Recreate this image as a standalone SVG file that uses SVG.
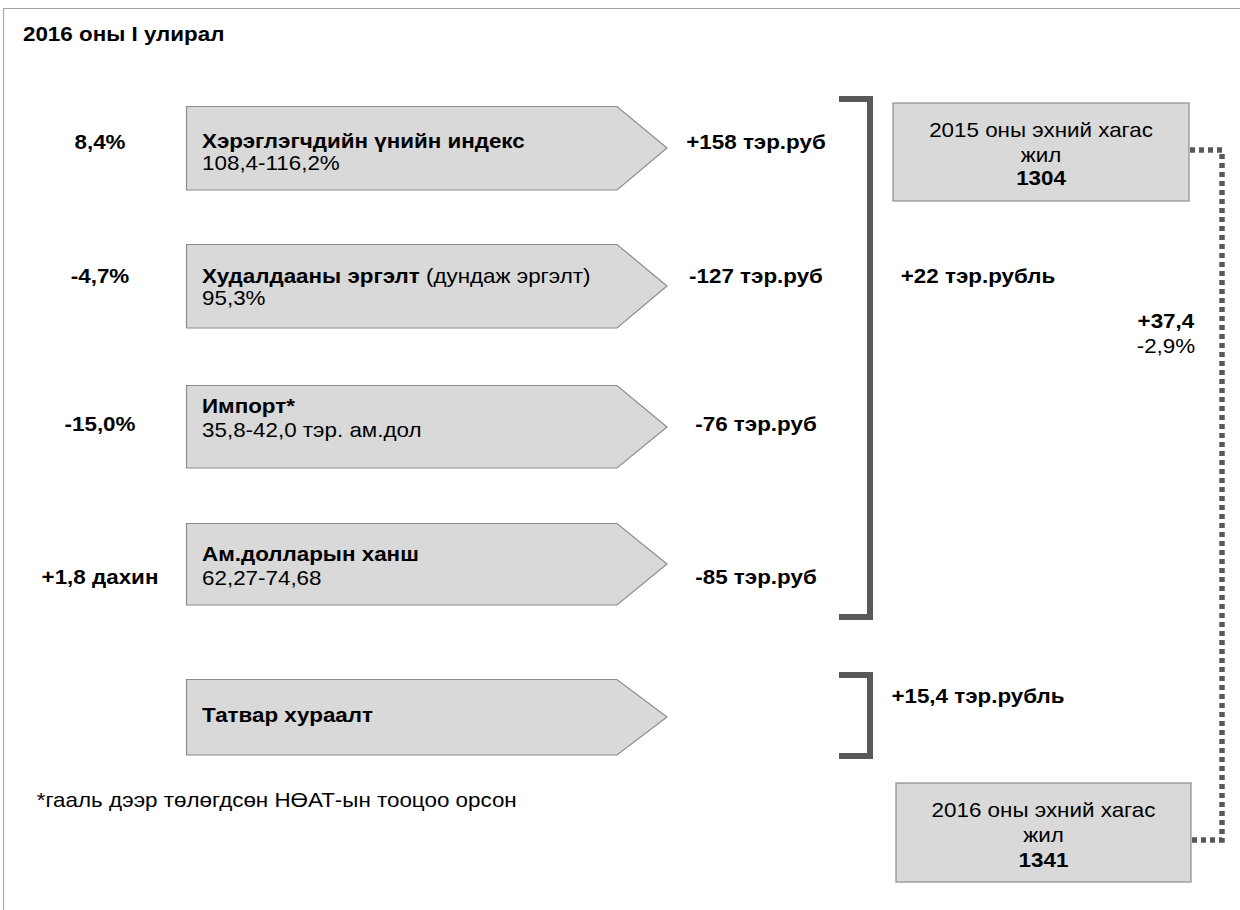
<svg xmlns="http://www.w3.org/2000/svg" width="1240" height="910" viewBox="0 0 1240 910">
<style>
  text { font-family: "Liberation Sans", Arial, sans-serif; font-size: 20px; fill: #000; transform: scale(1.12, 1); }
  .b { font-weight: bold; }
  .m { text-anchor: middle; }
  .arrow { fill: #d9d9d9; stroke: #8c8c8c; stroke-width: 1.2; }
  .box { fill: #d9d9d9; stroke: #8c8c8c; stroke-width: 1.2; }
  .brk { fill: none; stroke: #595959; stroke-width: 6; stroke-linejoin: miter; }
  .dot { fill: none; stroke: #595959; stroke-width: 5.5; stroke-dasharray: 5 4; }
</style>
<rect x="0" y="0" width="1240" height="910" fill="#ffffff"/>
<path d="M3.5,910 V8.5 H1240" fill="none" stroke="#a6a6a6" stroke-width="1.2"/>
<g id="title"><text class="b" x="20.5" y="41">2016 оны I улирал</text></g>

<g id="row1">
  <polygon class="arrow" points="186.5,106.5 617,106.5 667,148 617,190 186.5,190"/>
  <text class="b" x="180.4" y="148">Хэрэглэгчдийн үнийн индекс</text>
  <text x="180.4" y="170">108,4-116,2%</text>
</g>
<g id="row2">
  <polygon class="arrow" points="186.5,244.5 617,244.5 667,286 617,328 186.5,328"/>
  <text x="180.4" y="283"><tspan class="b">Худалдааны эргэлт</tspan> (дундаж эргэлт)</text>
  <text x="180.4" y="305">95,3%</text>
</g>
<g id="row3">
  <polygon class="arrow" points="186.5,385.5 617,385.5 667,427 617,468 186.5,468"/>
  <text class="b" x="180.4" y="413">Импорт*</text>
  <text x="180.4" y="437">35,8-42,0 тэр. ам.дол</text>
</g>
<g id="row4">
  <polygon class="arrow" points="186.5,523.5 617,523.5 667,564 617,605 186.5,605"/>
  <text class="b" x="180.4" y="561">Ам.долларын ханш</text>
  <text x="180.4" y="585">62,27-74,68</text>
</g>
<g id="row5">
  <polygon class="arrow" points="186.5,679.5 617,679.5 667,717 617,755 186.5,755"/>
  <text class="b" x="180.4" y="722">Татвар хураалт</text>
</g>

<g id="left-labels">
  <text class="b m" x="89.3" y="149">8,4%</text>
  <text class="b m" x="89.3" y="283">-4,7%</text>
  <text class="b m" x="89.3" y="431">-15,0%</text>
  <text class="b m" x="89.3" y="584">+1,8 дахин</text>
</g>
<g id="right-labels">
  <text class="b m" x="675" y="149">+158 тэр.руб</text>
  <text class="b m" x="675" y="283">-127 тэр.руб</text>
  <text class="b m" x="675" y="431">-76 тэр.руб</text>
  <text class="b m" x="675" y="584">-85 тэр.руб</text>
</g>
<g id="sum-labels">
  <text class="b m" x="873.2" y="283">+22 тэр.рубль</text>
  <text class="b m" x="873.2" y="703">+15,4 тэр.рубль</text>
</g>
<g id="diff-label">
  <text class="b m" x="1041" y="328">+37,4</text>
  <text class="m" x="1041" y="353">-2,9%</text>
</g>

<g id="box2015">
  <rect class="box" x="893" y="103" width="296" height="98"/>
  <text class="m" x="929.5" y="137">2015 оны эхний хагас</text>
  <text class="m" x="929.5" y="162">жил</text>
  <text class="b m" x="929.5" y="185">1304</text>
</g>
<g id="box2016">
  <rect class="box" x="896" y="783" width="295" height="99"/>
  <text class="m" x="931.7" y="817">2016 оны эхний хагас</text>
  <text class="m" x="931.7" y="842">жил</text>
  <text class="b m" x="931.7" y="867">1341</text>
</g>

<g id="connectors">
  <path class="brk" d="M839,99 H870 V617 H839"/>
  <path class="brk" d="M839,675 H870 V756 H839"/>
  <path class="dot" d="M1190,150 H1222 V840 H1192"/>
</g>

<g id="footnote"><text x="32.8" y="807">*гааль дээр төлөгдсөн НӨАТ-ын тооцоо орсон</text></g>
</svg>
